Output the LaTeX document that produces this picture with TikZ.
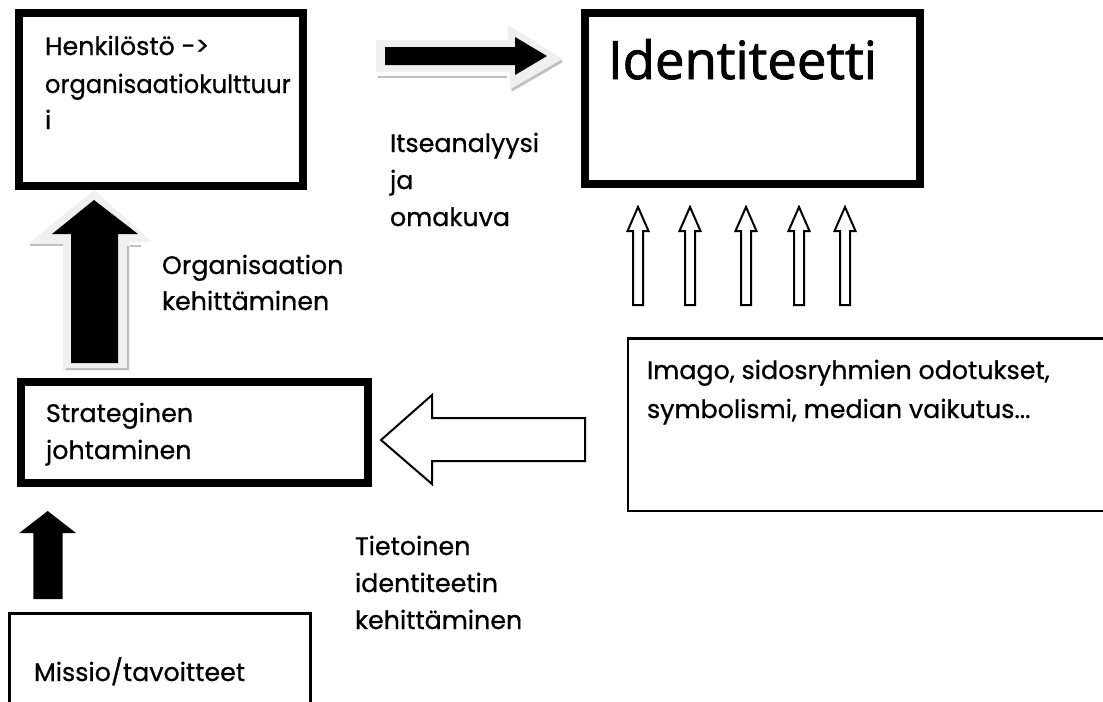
\documentclass[tikz,border=0pt]{standalone}
\usepackage{fontspec}
\setmainfont{Poppins}[FakeBold=0.7]
\newfontfamily\idfont{Open Sans}[FakeBold=1.6]
\begin{document}
\begin{tikzpicture}[x=0.75pt,y=-0.75pt,
  every node/.style={inner sep=0pt,outer sep=0pt},
  txt/.style={anchor=base west,font=\fontsize{19}{22}\selectfont},
  thickbox/.style={draw=black,line width=6pt,fill=white},
  thinbox/.style={draw=black,line width=1.9pt,fill=white},
  blackarrow/.style={fill=black,draw=none},
  whitearrow/.style={fill=white,draw=black,line width=1.5pt,line join=miter},
  glow/.style={fill=black!6,draw=none},
  shade/.style={draw=black!25,line width=2pt}]
\useasboundingbox (0,0) rectangle (1103,701);
\clip (0,0) rectangle (1103,701);

% boxes
\node[thickbox,minimum width=213pt,minimum height=129.75pt] (henk) at (161,99) {};
\node[thickbox,minimum width=251.25pt,minimum height=128.25pt] (ident) at (752.5,98.5) {};
\node[thickbox,minimum width=260.25pt,minimum height=75.75pt] (strat) at (194.5,432.5) {};
\node[thinbox,minimum width=372.6pt,minimum height=129.4pt] (imago) at (876.6,424.5) {};
\node[thinbox,minimum width=226.1pt,minimum height=95pt] (missio) at (160,676.6) {};

% right black arrow with glow
\fill[glow] (376,40) -- (508,40) -- (508,25) -- (563,59) -- (510,92) -- (510,72) -- (376,72) -- cycle;
\draw[shade] (378,77) -- (507,77);
\draw[shade] (512,90) -- (562,61);
\fill[blackarrow] (385,47) -- (515,47) -- (515,37) -- (547,56) -- (515,75) -- (515,65) -- (385,65) -- cycle;

% big black up arrow with glow
\fill[glow] (94,190) -- (152,242) -- (130,242) -- (130,371) -- (63,371) -- (63,244) -- (28,244) -- cycle;
\draw[shade] (30,245) -- (63,245);
\draw[shade] (128,246) -- (128,369) -- (66,369);
\draw[shade] (130,246) -- (141,246);
\fill[blackarrow] (94,200) -- (138,234) -- (118,234) -- (118,363) -- (71,363) -- (71,234) -- (52,234) -- cycle;

% small black up arrow
\fill[blackarrow] (47.7,511) -- (76,533) -- (62.7,533) -- (62.7,599) -- (33.3,599) -- (33.3,533) -- (19.3,533) -- cycle;

% white left arrow
\draw[whitearrow] (381,440) -- (432,395) -- (432,418) -- (585,418) -- (585,461) -- (432,461) -- (432,484) -- cycle;

% five white up arrows
\foreach \cx in {638,690,746,799,845}{
  \draw[whitearrow] (\cx,207) -- (\cx+10.5,231) -- (\cx+5,231) -- (\cx+5,305) -- (\cx-5,305) -- (\cx-5,231) -- (\cx-10.5,231) -- cycle;
}

% texts
\node[txt] (t1) at (45,55) {Henkilöstö ->};
\node[txt] (t2) at (45,93) {\scalebox{0.955}[1]{organisaatiokulttuur}};
\node[txt] (t3) at (45,129) {i};
\node[anchor=base west,font=\idfont\fontsize{39.5}{42}\selectfont] (t4) at (608,79) {Identiteetti};
\node[txt] (t5) at (390,152) {Itseanalyysi};
\node[txt] (t6) at (390,189) {ja};
\node[txt] (t7) at (390,226) {omakuva};
\node[txt] (t8) at (162,274) {Organisaation};
\node[txt] (t9) at (162,310) {kehittäminen};
\node[txt] (t10) at (46,422) {Strateginen};
\node[txt] (t11) at (46,459) {johtaminen};
\node[txt] (t12) at (647,379) {Imago, sidosryhmien odotukset,};
\node[txt] (t13) at (647,418) {symbolismi, median vaikutus...};
\node[txt] (t14) at (355,555) {Tietoinen};
\node[txt] (t15) at (355,592) {identiteetin};
\node[txt] (t16) at (355,629) {kehittäminen};
\node[txt] (t17) at (34,681) {Missio/tavoitteet};
\end{tikzpicture}
\end{document}
